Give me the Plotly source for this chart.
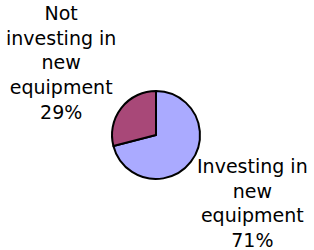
import plotly.graph_objects as go

labels = ["Investing in new equipment", "Not investing in new equipment"]
values = [71, 29]
colors = ["#AAAAFF", "#A84878"]
label_lines = ["Investing in<br>new<br>equipment", "Not<br>investing in<br>new<br>equipment"]
label_pos = [(0.803, 0.39), (0.195, 1.0)]
label_anchor = ["top", "top"]

fig = go.Figure(go.Pie(
    labels=labels,
    values=values,
    sort=False,
    direction="clockwise",
    rotation=0,
    marker=dict(colors=colors, line=dict(color="#000000", width=2)),
    textinfo="none",
    hoverinfo="label+percent",
    domain=dict(x=[0.3567, 0.6369], y=[0.284, 0.636]),
    showlegend=False,
))

total = sum(values)
for txt, v, (x, y), a in zip(label_lines, values, label_pos, label_anchor):
    fig.add_annotation(
        x=x, y=y, xref="paper", yref="paper",
        text=f"{txt}<br>{round(100 * v / total)}%",
        showarrow=False, xanchor="center", yanchor=a, align="center",
        font=dict(family="DejaVu Sans", size=19, color="#000000"),
    )

fig.update_layout(
    width=314, height=250,
    margin=dict(l=0, r=0, t=0, b=0),
    paper_bgcolor="#FFFFFF", plot_bgcolor="#FFFFFF",
)

fig.write_html(
    "out.html",
    config={"displayModeBar": False},
    post_script="document.body.style.margin='0';document.body.style.padding='0';",
)
